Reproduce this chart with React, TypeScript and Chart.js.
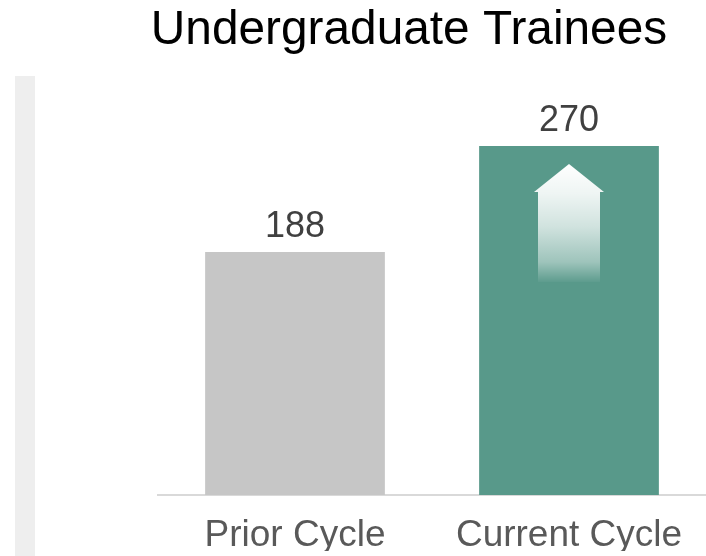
import React, { useEffect, useRef } from "react";
import { Chart, registerables } from "chart.js";

Chart.register(...registerables);

const categories = ["Prior Cycle", "Current Cycle"];
const values = [188, 270];
const barColors = ["#c6c6c6", "#58998a"];
const titleText = "Undergraduate Trainees";
const yMin = 0;
const yMax = 300;

const FONT = "'Liberation Sans', Arial, Helvetica, sans-serif";

const valueLabelPlugin = {
  id: "valueLabels",
  afterDatasetsDraw(chart: any) {
    const ctx = chart.ctx;
    const meta = chart.getDatasetMeta(0);
    ctx.save();
    ctx.font = `36px ${FONT}`;
    ctx.fillStyle = "#404040";
    ctx.textAlign = "center";
    ctx.textBaseline = "alphabetic";
    meta.data.forEach((bar: any, i: number) => {
      ctx.fillText(String(chart.data.datasets[0].data[i]), bar.x, bar.y - 15);
    });
    ctx.restore();
  },
};

const arrowPlugin = {
  id: "upArrow",
  afterDatasetsDraw(chart: any) {
    const ctx = chart.ctx;
    const meta = chart.getDatasetMeta(0);
    const bar: any = meta.data[meta.data.length - 1];
    if (!bar) return;
    const cx = bar.x;
    const tip = bar.y + 18;
    const shoulder = bar.y + 46;
    const bottom = bar.y + 136;
    const headHalf = 35;
    const shaftHalf = 31;
    const g = ctx.createLinearGradient(0, tip, 0, bottom);
    g.addColorStop(0, "rgba(255,255,255,1)");
    g.addColorStop(0.25, "rgba(255,255,255,0.9)");
    g.addColorStop(0.53, "rgba(255,255,255,0.72)");
    g.addColorStop(0.83, "rgba(255,255,255,0.42)");
    g.addColorStop(1, "rgba(255,255,255,0.03)");
    ctx.save();
    ctx.beginPath();
    ctx.moveTo(cx, tip);
    ctx.lineTo(cx + headHalf, shoulder);
    ctx.lineTo(cx + shaftHalf, shoulder);
    ctx.lineTo(cx + shaftHalf, bottom);
    ctx.lineTo(cx - shaftHalf, bottom);
    ctx.lineTo(cx - shaftHalf, shoulder);
    ctx.lineTo(cx - headHalf, shoulder);
    ctx.closePath();
    ctx.fillStyle = g;
    ctx.fill();
    ctx.restore();
  },
};

export default function App() {
  const ref = useRef<HTMLCanvasElement | null>(null);

  useEffect(() => {
    if (!ref.current) return;
    const chart = new Chart(ref.current, {
      type: "bar",
      data: {
        labels: categories,
        datasets: [
          {
            data: values,
            backgroundColor: barColors,
            borderWidth: 0,
            categoryPercentage: 1,
            barPercentage: 0.656,
          },
        ],
      },
      options: {
        animation: false,
        responsive: false,
        maintainAspectRatio: false,
        layout: { padding: { left: 110, right: -2, top: 0, bottom: 5 } },
        plugins: {
          legend: { display: false },
          tooltip: { enabled: false },
          title: {
            display: true,
            text: titleText,
            color: "#000000",
            font: { family: FONT, size: 47.8, weight: "normal", lineHeight: 1.2 },
            padding: { top: 2, bottom: 48 },
          },
        },
        scales: {
          x: {
            grid: { display: false, drawTicks: false },
            border: { display: true, color: "#d9d9d9", width: 2 },
            ticks: {
              color: "#595959",
              padding: 20,
              font: { family: FONT, size: 37, lineHeight: 1.124 },
              maxRotation: 0,
              autoSkip: false,
            },
            afterFit(scale: any) {
              scale.height = 56;
            },
          },
          y: {
            min: yMin,
            max: yMax,
            grid: { display: false, drawTicks: false },
            border: { display: false },
            ticks: { display: false },
            afterFit(scale: any) {
              scale.width = 48;
            },
          },
        },
      },
      plugins: [valueLabelPlugin, arrowPlugin],
    });
    return () => chart.destroy();
  }, []);

  return (
    <div style={{ position: "fixed", left: 0, top: 0, width: 706, height: 556, background: "#ffffff" }}>
      <div style={{ position: "absolute", left: 15, top: 76, width: 20, height: 480, background: "#eeeeee" }} />
      <canvas ref={ref} width={706} height={556} style={{ position: "absolute", left: 0, top: 0, width: 706, height: 556 }} />
    </div>
  );
}
